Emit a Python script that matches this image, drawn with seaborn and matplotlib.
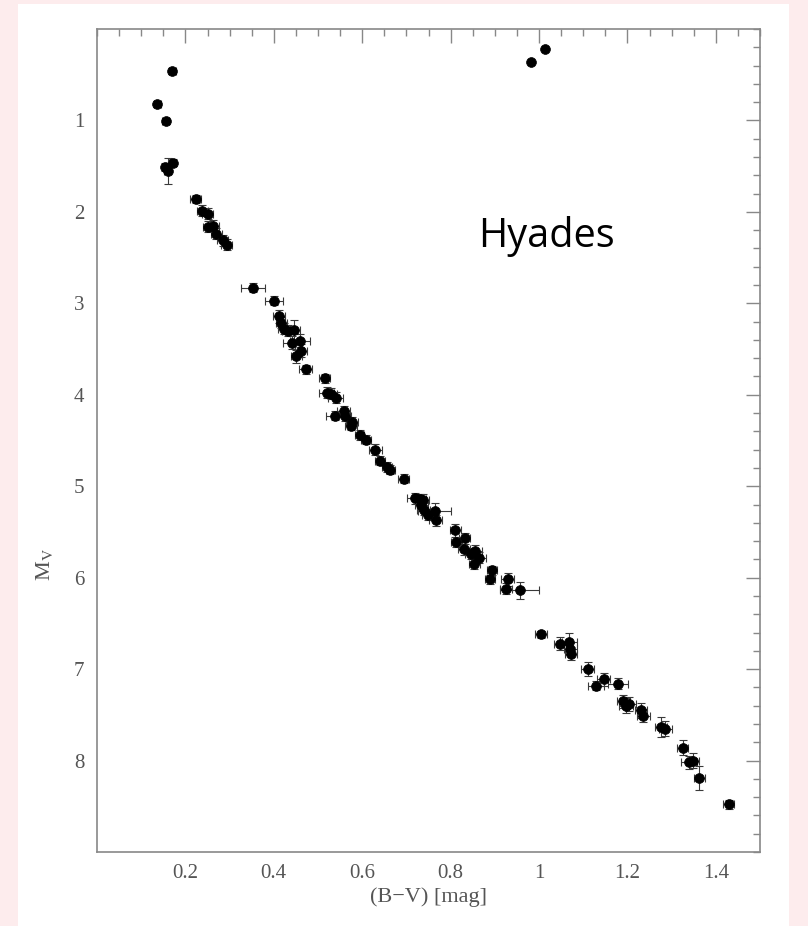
import numpy as np
import pandas as pd
import matplotlib
matplotlib.use("Agg")
import matplotlib.pyplot as plt
from matplotlib.patches import Rectangle
from matplotlib.ticker import MultipleLocator
import seaborn as sns

# Hyades colour-magnitude diagram
bv = [1.014, 0.981, 0.170, 0.136, 0.156, 0.171, 0.154, 0.160, 0.2235, 0.238,
      0.250, 0.252, 0.263, 0.270, 0.284, 0.293, 0.353, 0.400, 0.412, 0.417,
      0.423, 0.432, 0.445, 0.442, 0.459, 0.462, 0.451, 0.472, 0.515, 0.520,
      0.530, 0.540, 0.539, 0.558, 0.560, 0.577, 0.575, 0.594, 0.609, 0.630,
      0.640, 0.656, 0.664, 0.694, 0.719, 0.730, 0.737, 0.734, 0.739, 0.749,
      0.764, 0.766, 0.811, 0.813, 0.832, 0.830, 0.847, 0.856, 0.865, 0.854,
      0.894, 0.889, 0.929, 0.926, 0.956, 1.005, 1.048, 1.069, 1.071, 1.072,
      1.110, 1.129, 1.146, 1.179, 1.191, 1.197, 1.204, 1.231, 1.236, 1.276,
      1.286, 1.325, 1.340, 1.348, 1.363, 1.429]
mv = [0.22, 0.36, 0.46, 0.82, 1.01, 1.46, 1.51, 1.55, 1.86, 1.99,
      2.02, 2.16, 2.15, 2.24, 2.31, 2.36, 2.83, 2.97, 3.14, 3.21,
      3.28, 3.30, 3.29, 3.43, 3.41, 3.52, 3.58, 3.72, 3.82, 3.98,
      3.99, 4.03, 4.23, 4.18, 4.23, 4.30, 4.34, 4.44, 4.49, 4.60,
      4.72, 4.79, 4.82, 4.92, 5.13, 5.14, 5.15, 5.20, 5.26, 5.31,
      5.27, 5.37, 5.48, 5.61, 5.57, 5.69, 5.74, 5.71, 5.78, 5.85,
      5.92, 6.02, 6.02, 6.12, 6.14, 6.62, 6.72, 6.70, 6.78, 6.83,
      7.00, 7.18, 7.11, 7.16, 7.35, 7.40, 7.38, 7.45, 7.51, 7.63,
      7.65, 7.86, 8.02, 8.00, 8.19, 8.48]
bv_err = [0, 0, 0.008, 0.008, 0.008, 0.008, 0.008, 0.008, 0.012, 0.012,
          0.013, 0.013, 0.013, 0.013, 0.013, 0.013, 0.027, 0.02, 0.013, 0.013,
          0.014, 0.014, 0.015, 0.022, 0.022, 0.013, 0.013, 0.014, 0.012, 0.017,
          0.013, 0.017, 0.022, 0.014, 0.014, 0.013, 0.013, 0.011, 0.011, 0.015,
          0.011, 0.011, 0.011, 0.012, 0.018, 0.014, 0.014, 0.014, 0.014, 0.014,
          0.037, 0.014, 0.013, 0.013, 0.013, 0.013, 0.014, 0.014, 0.015, 0.013,
          0.012, 0.012, 0.014, 0.014, 0.045, 0.013, 0.014, 0.016, 0.014, 0.014,
          0.014, 0.018, 0.014, 0.022, 0.014, 0.015, 0.015, 0.014, 0.014, 0.014,
          0.015, 0.013, 0.018, 0.014, 0.012, 0.013]
mv_err = [0, 0, 0.03, 0.03, 0.03, 0.04, 0.04, 0.14, 0.04, 0.06,
          0.06, 0.06, 0.06, 0.06, 0.06, 0.06, 0.05, 0.05, 0.07, 0.06,
          0.06, 0.06, 0.11, 0.07, 0.07, 0.07, 0.07, 0.05, 0.05, 0.06,
          0.06, 0.06, 0.05, 0.06, 0.06, 0.06, 0.05, 0.05, 0.05, 0.06,
          0.05, 0.05, 0.05, 0.05, 0.06, 0.06, 0.06, 0.06, 0.06, 0.06,
          0.09, 0.06, 0.07, 0.06, 0.06, 0.06, 0.06, 0.07, 0.06, 0.06,
          0.05, 0.05, 0.07, 0.06, 0.09, 0.04, 0.07, 0.10, 0.07, 0.07,
          0.08, 0.05, 0.07, 0.06, 0.07, 0.08, 0.08, 0.08, 0.07, 0.11,
          0.08, 0.08, 0.07, 0.08, 0.13, 0.05]

df = pd.DataFrame({"bv": bv, "mv": mv, "bv_err": bv_err, "mv_err": mv_err})

sns.set_style("white")
plt.rcParams["font.family"] = ["Liberation Serif", "DejaVu Serif"]
plt.rcParams["mathtext.fontset"] = "stix"

fig = plt.figure(figsize=(8.08, 9.26), dpi=100)
fig.patch.set_facecolor("#fdeced")
fig.patches.append(Rectangle((18 / 808, 0), 771 / 808, 922 / 926,
                             transform=fig.transFigure, facecolor="white",
                             edgecolor="none", zorder=-10))

ax = fig.add_axes([97 / 808, 74 / 926, 663 / 808, 823 / 926])
ax.set_facecolor("white")

ax.errorbar(df["bv"], df["mv"], xerr=df["bv_err"], yerr=df["mv_err"],
            fmt="none", ecolor="#3a3a3a", elinewidth=0.8, capsize=3,
            capthick=0.8, zorder=2)
sns.scatterplot(data=df, x="bv", y="mv", ax=ax, color="black", s=50,
                edgecolor="black", linewidth=0.5, zorder=3, legend=False)

ax.set_xlim(0, 1.5)
ax.set_ylim(9, 0)
ax.set_xticks(np.arange(0.2, 1.41, 0.2))
ax.set_xticklabels(["0.2", "0.4", "0.6", "0.8", "1", "1.2", "1.4"])
ax.set_yticks(np.arange(1, 9))
ax.xaxis.set_minor_locator(MultipleLocator(0.05))
ax.yaxis.set_minor_locator(MultipleLocator(0.2))
ax.tick_params(which="both", direction="in", top=True, right=True,
               color="#888888", width=1.0, labelsize=15, labelcolor="#555555")
ax.tick_params(which="major", length=10, pad=9)
ax.tick_params(which="minor", length=5)
for sp in ax.spines.values():
    sp.set_color("#888888")
    sp.set_linewidth(1.2)

ax.set_xlabel("(B\u2212V) [mag]", fontsize=16, color="#555555", labelpad=3)
ax.set_ylabel("M$_{\\rm V}$", fontsize=16, color="#555555")
ax.yaxis.set_label_coords(-0.064, 0.349)

ax.text(0.863, 2.38, "Hyades", fontsize=28.5, family=["Open Sans", "DejaVu Sans"],
        color="black", ha="left", va="baseline")

fig.savefig("out.png", dpi=100, facecolor=fig.get_facecolor())
